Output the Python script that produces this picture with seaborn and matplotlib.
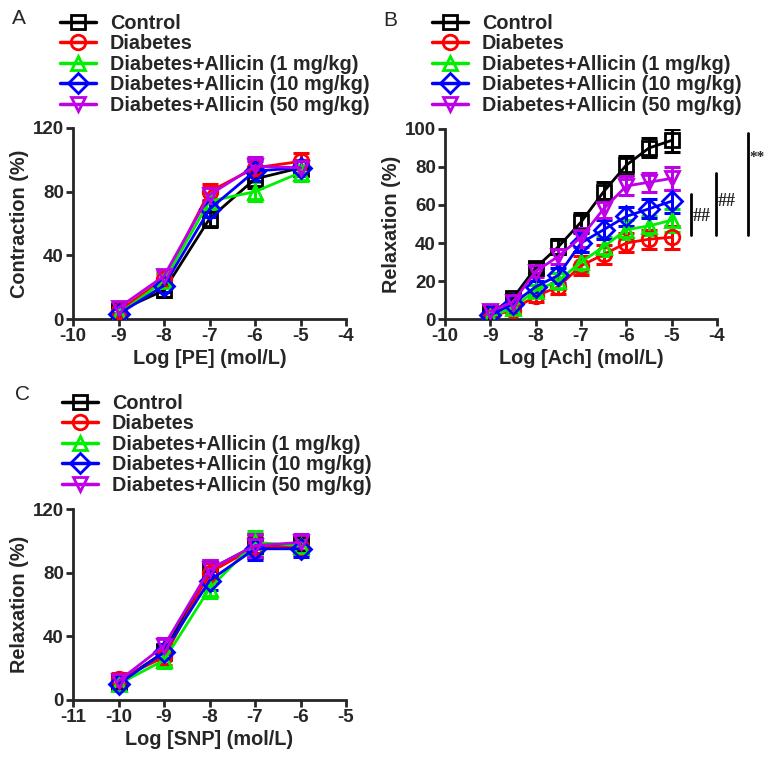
import numpy as np
import pandas as pd
import matplotlib
matplotlib.use("Agg")
import matplotlib.pyplot as plt
from matplotlib.lines import Line2D
import seaborn as sns

# --- Data ---
groups = ["Control", "Diabetes", "Diabetes+Allicin (1 mg/kg)",
          "Diabetes+Allicin (10 mg/kg)", "Diabetes+Allicin (50 mg/kg)"]
colors = ["#000000", "#FF0000", "#00EE00", "#0000FF", "#BF00E6"]
markers = ["s", "o", "^", "D", "v"]

# A: PE contraction
pe_x = [-9, -8, -7, -6, -5]
pe_control = [5, 18, 63, 88, 95]
pe_diabetes = [5, 25, 80, 95, 99]
pe_allicin1 = [3, 24, 74, 80, 92]
pe_allicin10 = [3, 21, 69, 93, 95]
pe_allicin50 = [7, 27, 78, 96, 95]
pe_err = [3, 4, 5, 6, 5]

# B: Ach relaxation
ach_x = [-9, -8.5, -8, -7.5, -7, -6.5, -6, -5.5, -5]
ach_control = [3, 11, 27, 38, 51, 67, 81, 90, 94]
ach_diabetes = [1, 5, 12, 17, 28, 34, 40, 42, 43]
ach_allicin1 = [1, 6, 15, 20, 30, 38, 47, 49, 52]
ach_allicin10 = [2, 8, 17, 23, 40, 47, 54, 58, 62]
ach_allicin50 = [4, 9, 25, 33, 43, 58, 70, 72, 74]
ach_err = [2, 2, 3, 4, 5, 5, 5, 5, 6]

# C: SNP relaxation
snp_x = [-10, -9, -8, -7, -6]
snp_control = [11, 30, 82, 97, 98]
snp_diabetes = [13, 27, 80, 96, 96]
snp_allicin1 = [10, 25, 70, 99, 97]
snp_allicin10 = [10, 30, 75, 95, 95]
snp_allicin50 = [12, 34, 82, 97, 99]
snp_err = [4, 5, 6, 7, 5]

sns.set_style("ticks")
plt.rcParams['font.family'] = ['Liberation Sans', 'DejaVu Sans']
plt.rcParams['font.weight'] = 'bold'
plt.rcParams['axes.labelweight'] = 'bold'
plt.rcParams['axes.unicode_minus'] = False

fig = plt.figure(figsize=(7.64, 7.59), dpi=100)
W, H = 764, 759
FS = 14.3


def add_axes(x0, x1, y_top, y_bot):
    return fig.add_axes([x0 / W, 1 - y_bot / H, (x1 - x0) / W, (y_bot - y_top) / H])


def draw_panel(ax, x, series, err, xlim, ylim, yticks, xlabel, ylabel):
    for g, c, m, vals in zip(groups, colors, markers, series):
        ax.errorbar(x, vals, yerr=err, fmt="none", ecolor=c, elinewidth=2.2,
                    capsize=6, capthick=2.2, zorder=2)
        sns.lineplot(x=x, y=vals, color=c, marker=m, markersize=10.5, markeredgewidth=2,
                     markerfacecolor="none", markeredgecolor=c, linewidth=2,
                     ax=ax, zorder=3)
    ax.set_xlim(*xlim)
    ax.set_ylim(*ylim)
    ax.set_xticks(range(xlim[0], xlim[1] + 1))
    ax.set_yticks(yticks)
    ax.set_xlabel(xlabel, fontsize=FS, labelpad=3)
    ax.set_ylabel(ylabel, fontsize=FS, labelpad=3)
    ax.tick_params(labelsize=13.5, width=2, length=5, pad=1.5)
    for lbl in ax.get_xticklabels() + ax.get_yticklabels():
        lbl.set_fontweight("bold")
    sns.despine(ax=ax)
    for s in ["left", "bottom"]:
        ax.spines[s].set_linewidth(2)


def add_legend(ax, x_left, y_top):
    handles = [Line2D([], [], color=c, marker=m, markersize=10.5, markeredgewidth=2,
                      markerfacecolor="none", linewidth=2.5)
               for c, m in zip(colors, markers)]
    ax.legend(handles, groups, loc="upper left", bbox_to_anchor=(x_left / W, 1 - y_top / H),
              bbox_transform=fig.transFigure, frameon=False,
              borderpad=0, borderaxespad=0, labelspacing=0.07, handlelength=1.8,
              handletextpad=0.7, prop={"weight": "bold", "size": FS})


axA = add_axes(73, 346, 128, 319)
draw_panel(axA, pe_x, [pe_control, pe_diabetes, pe_allicin1, pe_allicin10, pe_allicin50],
           pe_err, (-10, -4), (0, 120), [0, 40, 80, 120], "Log [PE] (mol/L)", "Contraction (%)")
add_legend(axA, 60, 14)

axB = add_axes(445, 717, 129, 319)
draw_panel(axB, ach_x, [ach_control, ach_diabetes, ach_allicin1, ach_allicin10, ach_allicin50],
           ach_err, (-10, -4), (0, 100), [0, 20, 40, 60, 80, 100], "Log [Ach] (mol/L)", "Relaxation (%)")
add_legend(axB, 432, 14)

# significance bars in panel B
for xb, y0, y1, yt, txt, fs in [(-4.57, 44, 66, 54, "##", 13), (-4.02, 44, 77, 62, "##", 13),
                                (-3.32, 44, 98, 85, "**", 11)]:
    axB.plot([xb, xb], [y0, y1], color="black", lw=2, clip_on=False)
    axB.text(xb + 0.04, yt, txt, fontsize=fs, fontweight="bold", fontfamily="Liberation Serif",
             va="center", ha="left", clip_on=False)

axC = add_axes(73, 346, 509, 700)
draw_panel(axC, snp_x, [snp_control, snp_diabetes, snp_allicin1, snp_allicin10, snp_allicin50],
           snp_err, (-11, -5), (0, 120), [0, 40, 80, 120], "Log [SNP] (mol/L)", "Relaxation (%)")
add_legend(axC, 62, 394)

for lbl, x, y in [("A", 19, 19), ("B", 390, 20), ("C", 22, 394)]:
    fig.text(x / W, 1 - y / H, lbl, fontsize=15, fontweight="normal", ha="center", va="center")

fig.savefig("out.png", dpi=100)
